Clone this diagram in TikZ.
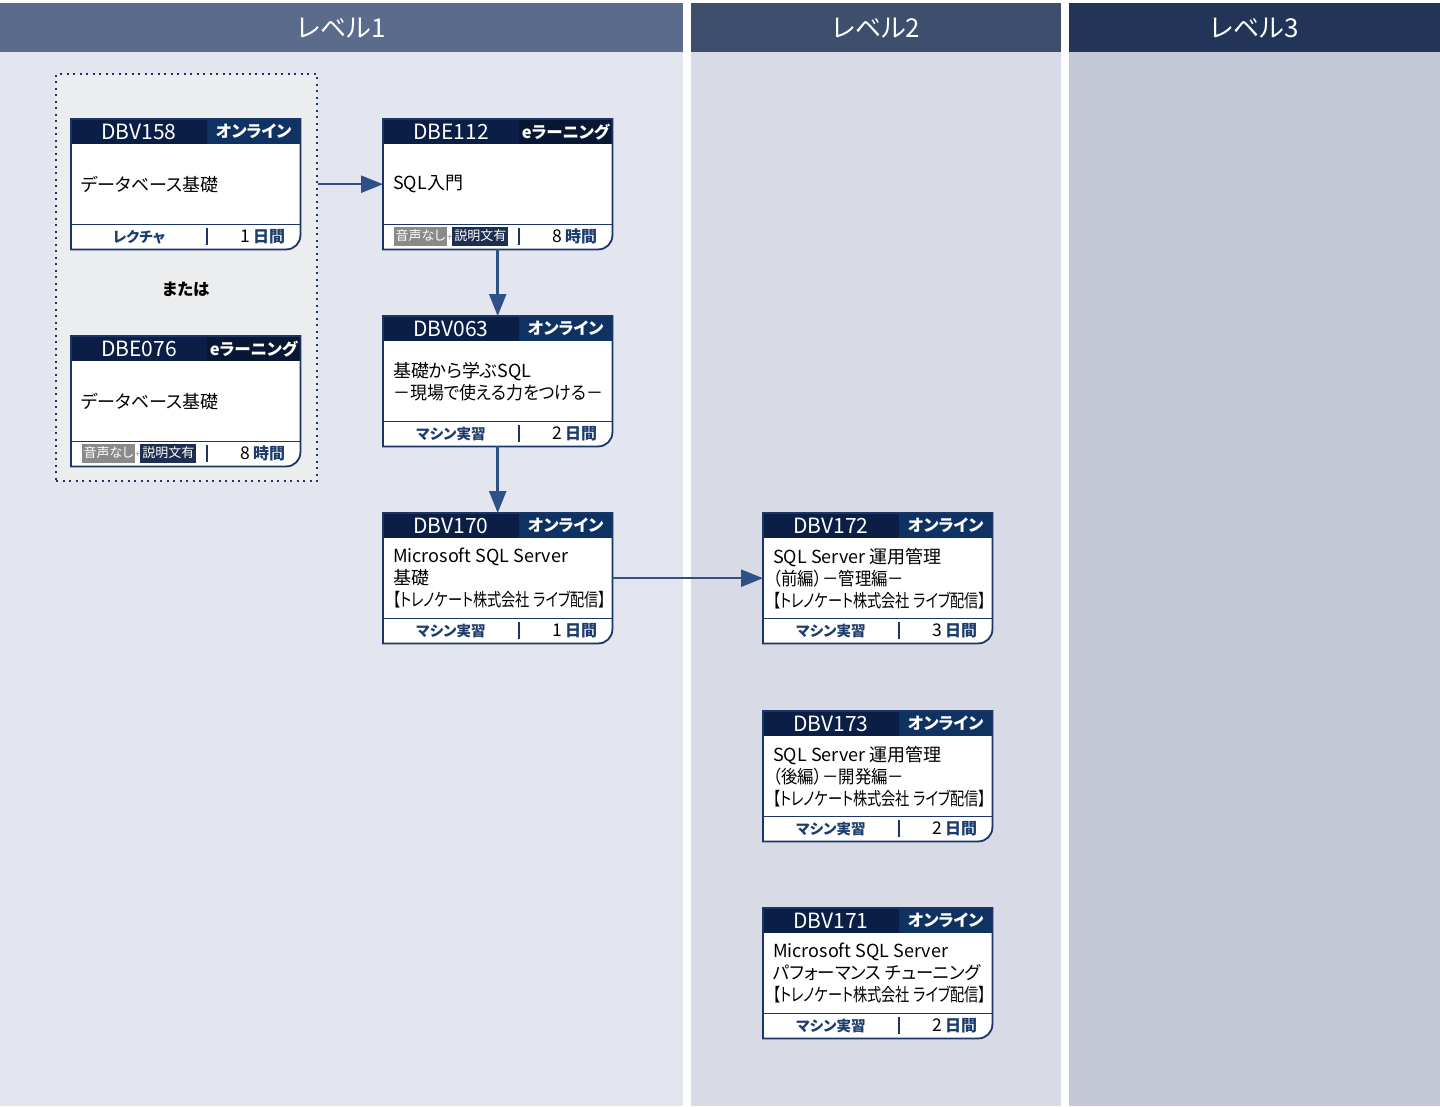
\documentclass[tikz,border=0pt]{standalone}
\usepackage{fontspec}
\usepackage{graphicx}
\setmainfont[RawFeature=+palt]{Noto Sans CJK JP}
\usetikzlibrary{arrows.meta,calc,positioning}

\definecolor{laneonehead}{HTML}{5A6B8B}
\definecolor{lanetwohead}{HTML}{3D4F6D}
\definecolor{lanethreehead}{HTML}{223457}
\definecolor{laneonebody}{HTML}{E3E6EF}
\definecolor{lanetwobody}{HTML}{D8DBE5}
\definecolor{lanethreebody}{HTML}{C4C8D6}
\definecolor{choicefill}{HTML}{ECEDEF}
\definecolor{cardnavy}{HTML}{1A3566}
\definecolor{cardhead}{HTML}{0B1E45}
\definecolor{tagonline}{HTML}{0E3262}
\definecolor{tagelearn}{HTML}{071734}
\definecolor{labelnavy}{HTML}{1D3C6E}
\definecolor{arrowblue}{HTML}{2E5087}
\definecolor{mutegray}{HTML}{8A8A8A}
\definecolor{notenavy}{HTML}{1E2E50}

\newcommand{\fsz}[1]{\fontsize{#1pt}{#1pt}\selectfont}
\newcommand{\narrowline}[2]{\scalebox{#1}[1]{#2}}
\newcommand{\vendorline}{\narrowline{0.79}{【トレノケート株式会社 ライブ配信】}}
\newcommand{\audiotags}{{\mdseries\fsz{13}\setlength{\fboxsep}{2pt}%
  \colorbox{mutegray}{\color{white}\strut 音声なし}%
  {\color{mutegray}\fsz{9}+}%
  \colorbox{notenavy}{\color{white}\strut 説明文有}}}
% #1 name, #2 top left, #3 code, #4 tag, #5 tag colour, #6 title, #7 format, #8 number, #9 unit
\newcommand{\coursecard}[9]{%
  \node[cardframe, anchor=north west] (#1) at (#2) {};
  \fill[white] (#1.north west) -- (#1.north east) [rounded corners=14pt] -- (#1.south east) [sharp corners] -- (#1.south west) -- cycle;
  \fill[cardhead] (#1.north west) rectangle ($(#1.north east)+(0,25)$);
  \node[cardtag, fill=#5] at (#1.north east) {#4};
  \node[cardcode] at ($(#1.north west)+(68,12.5)$) {#3};
  \node[cardtitle] at ($(#1.west)+(10,0)$) {#6};
  \draw[cardnavy, line width=1.4pt] ($(#1.south west)+(0,-25)$) -- ($(#1.south east)+(0,-25)$);
  \draw[cardnavy, line width=1.4pt] ($(#1.south west)+(136,-4)$) -- ($(#1.south west)+(136,-21)$);
  \node[cardformat] at ($(#1.south west)+(68,-12.5)$) {#7};
  \node[carddays] at ($(#1.south east)+(-15,-12.5)$) {{\color{black}\mdseries\fsz{17.5}#8}\,#9};
  \draw[cardline] (#1.north west) -- (#1.north east) [rounded corners=14pt] -- (#1.south east) [sharp corners] -- (#1.south west) -- cycle;
}

\begin{document}
\begin{tikzpicture}[x=1pt, y=-1pt,
    lanehead/.style={text=white, font=\fsz{26}},
    cardframe/.style={minimum width=229pt, minimum height=130pt, inner sep=0pt},
    cardline/.style={draw=cardnavy, line width=1.8pt},
    cardcode/.style={text=white, font=\fsz{21}},
    cardtag/.style={text=white, font=\bfseries\fsz{16.5}, minimum width=93pt, minimum height=25pt, inner sep=0pt, anchor=north east},
    cardtitle/.style={font=\fontsize{18pt}{22pt}\selectfont, align=left, anchor=west, inner sep=0pt, text=black},
    cardformat/.style={text=labelnavy, font=\bfseries\fsz{14.5}, inner sep=0pt},
    carddays/.style={anchor=east, inner sep=0pt, text=labelnavy, font=\bfseries\fsz{16}},
    choicebox/.style={draw=cardnavy, fill=choicefill, line width=2pt, dash pattern=on 2pt off 4.5pt, minimum width=261pt, minimum height=407pt, inner sep=0pt, anchor=north west},
    flow/.style={draw=arrowblue, line width=2.5pt, -{Triangle[length=22pt,width=17pt]}}]
  \useasboundingbox (0,0) rectangle (1440,1106);
  \fill[white] (0,0) rectangle (1440,1106);

  % lanes
  \fill[laneonebody] (0,52) rectangle (683,1106);
  \fill[laneonehead] (0,3) rectangle (683,52);
  \fill[lanetwobody] (691,52) rectangle (1061,1106);
  \fill[lanetwohead] (691,3) rectangle (1061,52);
  \fill[lanethreebody] (1069,52) rectangle (1440,1106);
  \fill[lanethreehead] (1069,3) rectangle (1440,52);
  \node[lanehead] (levelone) at (341.5,28) {レベル1};
  \node[lanehead] (leveltwo) at (876,28) {レベル2};
  \node[lanehead] (levelthree) at (1254.5,28) {レベル3};

  % level 1
  \node[choicebox] (choice) at (55,73) {};
  \coursecard{dbv158}{71,119}{DBV158}{オンライン}{tagonline}{データベース基礎}{レクチャ}{1}{日間}
  \node[font=\bfseries\fsz{16.5}] (either) at (186,289) {または};
  \coursecard{dbe076}{71,336}{DBE076}{eラーニング}{tagelearn}{データベース基礎}{\audiotags}{8}{時間}
  \coursecard{dbe112}{383,119}{DBE112}{eラーニング}{tagelearn}{SQL入門}{\audiotags}{8}{時間}
  \coursecard{dbv063}{383,316}{DBV063}{オンライン}{tagonline}{基礎から学ぶSQL\\\narrowline{0.94}{－現場で使える力をつける－}}{マシン実習}{2}{日間}
  \coursecard{dbv170}{383,513}{DBV170}{オンライン}{tagonline}{Microsoft SQL Server\\基礎\\\vendorline}{マシン実習}{1}{日間}

  % level 2
  \coursecard{dbv172}{763,513}{DBV172}{オンライン}{tagonline}{SQL Server 運用管理\\\narrowline{0.91}{（前編）－管理編－}\\\vendorline}{マシン実習}{3}{日間}
  \coursecard{dbv173}{763,711}{DBV173}{オンライン}{tagonline}{SQL Server 運用管理\\\narrowline{0.91}{（後編）－開発編－}\\\vendorline}{マシン実習}{2}{日間}
  \coursecard{dbv171}{763,908}{DBV171}{オンライン}{tagonline}{Microsoft SQL Server\\\narrowline{0.97}{パフォーマンス チューニング}\\\vendorline}{マシン実習}{2}{日間}

  \draw[flow] (choice.east |- dbe112.west) -- (dbe112.west);
  \draw[flow] (dbe112.south) -- (dbv063.north);
  \draw[flow] (dbv063.south) -- (dbv170.north);
  \draw[flow] (dbv170.east) -- (dbv172.west);
\end{tikzpicture}
\end{document}
